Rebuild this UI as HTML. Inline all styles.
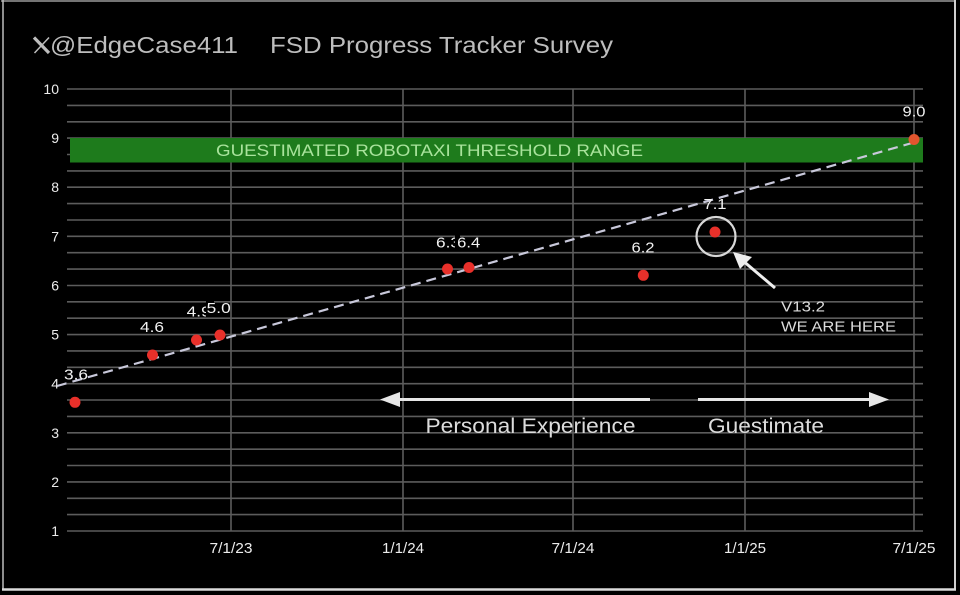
<!DOCTYPE html>
<html><head><meta charset="utf-8"><style>
html,body{margin:0;padding:0;background:#000;}
svg{display:block;}
text{font-family:"Liberation Sans",Arial,sans-serif;}
</style></head><body>
<svg width="960" height="595" viewBox="0 0 960 595" xmlns="http://www.w3.org/2000/svg">
<rect x="0" y="0" width="960" height="595" fill="#000"/>
<!-- frame -->
<line x1="1" y1="1" x2="956" y2="1" stroke="#9a9a9a" stroke-width="1.5"/>
<line x1="3" y1="0" x2="3" y2="590" stroke="#bdbdbd" stroke-width="1.5"/>
<line x1="955" y1="0" x2="955" y2="590" stroke="#d0d0d0" stroke-width="2"/>
<line x1="2" y1="589.5" x2="956" y2="589.5" stroke="#dcdcdc" stroke-width="2.5"/>

<!-- title -->
<g stroke="#bdbdbd" fill="none">
<line x1="34" y1="37.5" x2="49" y2="53" stroke-width="3.2"/>
<line x1="49" y1="37.5" x2="34.5" y2="53" stroke-width="1.5"/>
</g>
<text x="50" y="53" font-size="23" fill="#bdbdbd" textLength="188" lengthAdjust="spacingAndGlyphs">@EdgeCase411</text>
<text x="270" y="53" font-size="23" fill="#bdbdbd" textLength="343" lengthAdjust="spacingAndGlyphs">FSD Progress Tracker Survey</text>

<!-- grid -->
<g stroke="#5c5c5c" stroke-width="1.6">
<line x1="67" x2="923" y1="531" y2="531"/>
<line x1="67" x2="923" y1="514.6" y2="514.6"/>
<line x1="67" x2="923" y1="498.3" y2="498.3"/>
<line x1="67" x2="923" y1="481.9" y2="481.9"/>
<line x1="67" x2="923" y1="465.5" y2="465.5"/>
<line x1="67" x2="923" y1="449.2" y2="449.2"/>
<line x1="67" x2="923" y1="432.8" y2="432.8"/>
<line x1="67" x2="923" y1="416.4" y2="416.4"/>
<line x1="67" x2="923" y1="400.0" y2="400.0"/>
<line x1="67" x2="923" y1="383.7" y2="383.7"/>
<line x1="67" x2="923" y1="367.3" y2="367.3"/>
<line x1="67" x2="923" y1="350.9" y2="350.9"/>
<line x1="67" x2="923" y1="334.6" y2="334.6"/>
<line x1="67" x2="923" y1="318.2" y2="318.2"/>
<line x1="67" x2="923" y1="301.8" y2="301.8"/>
<line x1="67" x2="923" y1="285.5" y2="285.5"/>
<line x1="67" x2="923" y1="269.1" y2="269.1"/>
<line x1="67" x2="923" y1="252.7" y2="252.7"/>
<line x1="67" x2="923" y1="236.3" y2="236.3"/>
<line x1="67" x2="923" y1="220.0" y2="220.0"/>
<line x1="67" x2="923" y1="203.6" y2="203.6"/>
<line x1="67" x2="923" y1="187.2" y2="187.2"/>
<line x1="67" x2="923" y1="170.9" y2="170.9"/>
<line x1="67" x2="923" y1="154.5" y2="154.5"/>
<line x1="67" x2="923" y1="138.1" y2="138.1"/>
<line x1="67" x2="923" y1="121.8" y2="121.8"/>
<line x1="67" x2="923" y1="105.4" y2="105.4"/>
<line x1="67" x2="923" y1="89.0" y2="89.0"/>
<line x1="231" x2="231" y1="89" y2="531"/>
<line x1="403" x2="403" y1="89" y2="531"/>
<line x1="573" x2="573" y1="89" y2="531"/>
<line x1="745" x2="745" y1="89" y2="531"/>
<line x1="914" x2="914" y1="89" y2="531"/>
</g>

<!-- y labels -->
<g font-size="14" fill="#ececec" text-anchor="end">
<text x="59" y="94">10</text>
<text x="59" y="143">9</text>
<text x="59" y="192">8</text>
<text x="59" y="241.3">7</text>
<text x="59" y="290.5">6</text>
<text x="59" y="339.6">5</text>
<text x="59" y="388.7">4</text>
<text x="59" y="437.8">3</text>
<text x="59" y="487">2</text>
<text x="59" y="536">1</text>
</g>
<!-- x labels -->
<g font-size="15" fill="#ececec" text-anchor="middle">
<text x="231" y="553" textLength="43" lengthAdjust="spacingAndGlyphs">7/1/23</text>
<text x="403" y="553" textLength="42" lengthAdjust="spacingAndGlyphs">1/1/24</text>
<text x="573" y="553" textLength="43" lengthAdjust="spacingAndGlyphs">7/1/24</text>
<text x="745" y="553" textLength="42" lengthAdjust="spacingAndGlyphs">1/1/25</text>
<text x="914" y="553" textLength="43" lengthAdjust="spacingAndGlyphs">7/1/25</text>
</g>

<!-- band -->
<rect x="70" y="138" width="853" height="24.5" fill="#1e7b1c"/>
<text x="216" y="156" font-size="17" fill="#a9e39c" textLength="427" lengthAdjust="spacingAndGlyphs">GUESTIMATED ROBOTAXI THRESHOLD RANGE</text>

<!-- trend line -->
<line x1="57" y1="386" x2="912" y2="143" stroke="#c8c8da" stroke-width="2.2" stroke-dasharray="10 6"/>

<!-- circle + arrow -->
<circle cx="716" cy="236.5" r="19.5" fill="none" stroke="#d8d8d8" stroke-width="2.2"/>
<line x1="775" y1="288" x2="742" y2="260" stroke="#eeeeee" stroke-width="3"/>
<polygon points="733,252 752,257 740,269" fill="#eeeeee"/>
<text x="781" y="311.5" font-size="15" fill="#dcdcdc" textLength="44" lengthAdjust="spacingAndGlyphs">V13.2</text>
<text x="781" y="331.5" font-size="15" fill="#dcdcdc" textLength="115" lengthAdjust="spacingAndGlyphs">WE ARE HERE</text>

<!-- direction arrows -->
<line x1="395" y1="399.5" x2="650" y2="399.5" stroke="#e6e6e6" stroke-width="3"/>
<polygon points="380,399.5 400,392 400,407" fill="#e6e6e6"/>
<line x1="698" y1="399.5" x2="875" y2="399.5" stroke="#e6e6e6" stroke-width="3"/>
<polygon points="889,399.5 869,392 869,407" fill="#e6e6e6"/>
<text x="425.5" y="433" font-size="21" fill="#dcdcdc" textLength="210" lengthAdjust="spacingAndGlyphs">Personal Experience</text>
<text x="708" y="433" font-size="21" fill="#dcdcdc" textLength="116" lengthAdjust="spacingAndGlyphs">Guestimate</text>

<!-- points -->
<g fill="#e8302a">
<circle cx="75" cy="402.3" r="5.5"/>
<circle cx="152.5" cy="355" r="5.5"/>
<circle cx="196.5" cy="340" r="5.5"/>
<circle cx="220" cy="335" r="5.5"/>
<circle cx="447.5" cy="269" r="5.5"/>
<circle cx="469" cy="267.5" r="5.5"/>
<circle cx="643.3" cy="275.3" r="5.5"/>
<circle cx="715" cy="232" r="5.5"/>
<circle cx="914" cy="139.5" r="5.5" fill="#e2552e"/>
</g>

<!-- data labels -->
<g font-size="15" fill="#f2f2f2" text-anchor="middle">
<text x="76" y="379.5" textLength="24" lengthAdjust="spacingAndGlyphs">3.6</text>
<text x="152" y="332" textLength="24" lengthAdjust="spacingAndGlyphs">4.6</text>
<text x="198.7" y="316.5" textLength="24" lengthAdjust="spacingAndGlyphs">4.9</text>
<rect x="206" y="300" width="8" height="17" fill="#000"/>
<text x="218.7" y="313" textLength="24" lengthAdjust="spacingAndGlyphs">5.0</text>
<text x="448" y="247.5" textLength="24" lengthAdjust="spacingAndGlyphs">6.3</text>
<rect x="455" y="234" width="5" height="15" fill="#000"/>
<text x="468.7" y="247.5" textLength="23" lengthAdjust="spacingAndGlyphs">6.4</text>
<text x="643" y="252.5" textLength="23" lengthAdjust="spacingAndGlyphs">6.2</text>
<text x="715" y="209" textLength="23" lengthAdjust="spacingAndGlyphs">7.1</text>
<text x="914" y="116.5" textLength="23" lengthAdjust="spacingAndGlyphs">9.0</text>
</g>
</svg>
</body></html>
